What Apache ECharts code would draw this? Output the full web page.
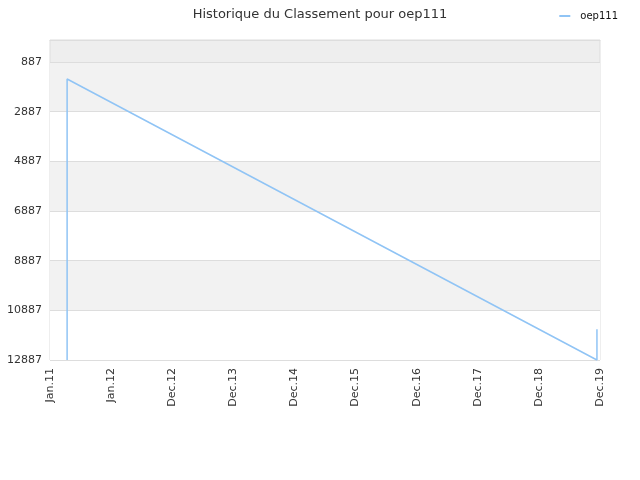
<!DOCTYPE html>
<html><head><meta charset="utf-8">
<script src="https://cdn.jsdelivr.net/npm/echarts@6/dist/echarts.min.js"></script>
<style>html,body{margin:0;padding:0;background:#fff}#c{width:640px;height:480px}</style>
</head><body><div id="c"></div>
<script>
var xTickLabels = ['Jan.11','Jan.12','Dec.12','Dec.13','Dec.14','Dec.15','Dec.16','Dec.17','Dec.18','Dec.19'];
var yTickValues = [887, 2887, 4887, 6887, 8887, 10887, 12887];
var seriesName = 'oep111';
var seriesX = [0.28, 0.28, 0.28, 8.95, 8.95];
var seriesRank = [12887, 3710, 1572, 12887, 11653];

var chart = echarts.init(document.getElementById('c'));
var data = seriesX.map(function (x, i) { return [x, seriesRank[i]]; });
var bandColors = ['#f2f2f2', '#ffffff', '#f2f2f2', '#ffffff', '#f2f2f2', '#ffffff'];
chart.setOption({
  animation: false,
  textStyle: { fontFamily: 'DejaVu Sans' },
  title: { text: 'Historique du Classement pour oep111', left: 'center', top: 3,
    textStyle: { fontSize: 13, fontWeight: 'normal', color: '#333', fontFamily: 'DejaVu Sans' } },
  legend: { data: [seriesName], right: 17, top: 6, icon: 'rect', itemWidth: 11, itemHeight: 2, itemGap: 10,
    textStyle: { fontSize: 10, color: '#111', fontFamily: 'DejaVu Sans', padding: [0, 0, 0, 5] } },
  grid: { left: 50, right: 40, top: 40, bottom: 120, show: true, borderColor: '#dddddd', borderWidth: 1,
    backgroundColor: '#eeeeee' },
  xAxis: { type: 'value', min: 0, max: 9, interval: 1,
    axisLine: { show: true, lineStyle: { color: '#dddddd' } },
    axisTick: { show: false }, splitLine: { show: false },
    axisLabel: { rotate: 90, fontSize: 11, color: '#333', margin: 8,
      formatter: function (v) { return xTickLabels[Math.round(v)] || ''; } } },
  yAxis: { type: 'value', inverse: true, min: 0, max: 12887,
    axisLine: { show: false }, axisTick: { show: false, customValues: yTickValues },
    axisLabel: { fontSize: 11, color: '#333', customValues: yTickValues, margin: 8,
      formatter: function (v) { return String(v); } },
    splitLine: { show: true, lineStyle: { color: '#dddddd' }, customValues: yTickValues },
    splitArea: { show: true, customValues: yTickValues, areaStyle: { color: bandColors } } },
  series: [{ name: seriesName, type: 'line', data: data, showSymbol: false,
    lineStyle: { color: '#90c4f5', width: 1.5 }, itemStyle: { color: '#90c4f5' } }]
});
</script></body></html>
